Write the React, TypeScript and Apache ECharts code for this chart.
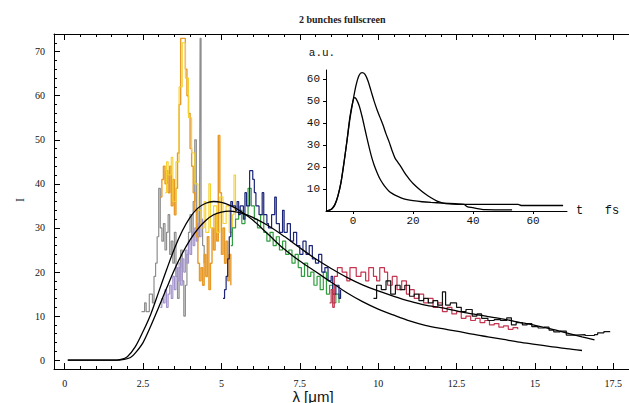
import React, { useEffect, useRef } from 'react';
import * as echarts from 'echarts';

// ---------- tick labels ----------
const xMajorTicks = [0, 2.5, 5, 7.5, 10, 12.5, 15, 17.5];
const yMajorTicks = [0, 10, 20, 30, 40, 50, 60, 70];
const insetXTicks = [0, 20, 40, 60];
const insetYTicks = [10, 20, 30, 40, 50, 60];

// ---------- main spectra (λ [μm], I) ----------
const graySpec = [[2.45,11],[2.55,13],[2.6,11],[2.7,15],[2.8,13],[2.85,19],[2.9,22],[2.95,28],[3.0,39],[3.05,30],[3.1,27],[3.15,31],[3.2,25],[3.25,29],[3.3,33],[3.35,24],[3.4,27],[3.45,22],[3.5,29],[3.55,19],[3.6,14],[3.65,21],[3.7,25],[3.75,18],[3.8,10],[3.85,17],[3.9,24],[3.95,29],[4.0,33],[4.05,28],[4.1,36],[4.15,50],[4.2,34],[4.25,28],[4.3,31],[4.32,73],[4.35,31],[4.4,26],[4.45,22]];
const purpleSpec = [[3.05,12],[3.1,14],[3.15,13],[3.2,16],[3.25,12],[3.3,15],[3.35,17],[3.4,14],[3.45,19],[3.5,16],[3.55,21],[3.6,18],[3.65,22],[3.7,17],[3.75,23],[3.8,20],[3.85,25],[3.9,22],[3.95,27],[4.0,24],[4.05,29],[4.1,26],[4.15,30],[4.2,27],[4.25,31],[4.3,28],[4.35,32],[4.4,30]];
const orangeSpec = [[3.05,37],[3.1,41],[3.15,44],[3.2,40],[3.25,43],[3.3,38],[3.35,44],[3.4,35],[3.45,41],[3.5,33],[3.55,39],[3.6,47],[3.65,58],[3.7,73],[3.8,73],[3.85,66],[3.9,60],[3.95,56],[4.0,48],[4.05,44],[4.1,38],[4.15,34],[4.2,28],[4.25,22],[4.3,18],[4.35,21],[4.4,17],[4.45,24],[4.5,19],[4.55,28],[4.6,16],[4.65,22],[4.7,30],[4.75,25],[4.8,33],[4.85,27],[4.9,51],[4.95,38],[5.0,24],[5.05,30],[5.1,22],[5.15,27],[5.2,18],[5.25,24],[5.3,17]];
const yellowSpec = [[3.2,38],[3.25,45],[3.3,42],[3.4,46],[3.45,36],[3.55,45],[3.65,62],[3.75,72],[3.85,64],[3.95,55],[4.05,47],[4.15,40],[4.25,34],[4.35,30],[4.45,36],[4.5,29],[4.6,40],[4.65,30],[4.75,35],[4.85,29],[4.95,37],[5.05,31],[5.15,35],[5.25,29],[5.35,33],[5.4,42],[5.45,30]];
const blueSpec = [[5.05,14],[5.1,16],[5.15,19],[5.2,23],[5.25,28],[5.3,36],[5.35,35],[5.45,34],[5.5,36],[5.55,33],[5.6,35],[5.7,32],[5.75,38],[5.8,35],[5.9,43],[6.0,41],[6.05,38],[6.1,35],[6.2,33],[6.3,38],[6.35,33],[6.45,31],[6.5,30],[6.6,33],[6.7,37],[6.75,31],[6.85,29],[6.95,34],[7.0,29],[7.1,31],[7.2,27],[7.3,29],[7.4,26],[7.5,24],[7.6,27],[7.7,24],[7.8,26],[7.9,23],[8.0,22],[8.1,24],[8.2,20],[8.3,21],[8.4,18],[8.5,19],[8.55,15],[8.65,17],[8.75,14],[8.8,16]];
const greenSpec = [[5.3,26],[5.35,30],[5.45,32],[5.55,34],[5.65,31],[5.75,33],[5.85,39],[5.95,35],[6.05,32],[6.15,30],[6.25,33],[6.35,29],[6.45,27],[6.55,29],[6.65,26],[6.75,28],[6.85,25],[6.95,27],[7.05,24],[7.15,25],[7.25,22],[7.35,24],[7.45,21],[7.55,19],[7.65,22],[7.75,19],[7.85,20],[7.95,17],[8.05,19],[8.15,16],[8.25,20],[8.35,15],[8.45,17],[8.55,13],[8.65,15],[8.75,13]];
const redSpec = [[8.45,13],[8.5,16],[8.55,12],[8.6,19],[8.7,21],[8.85,20],[9.0,18],[9.1,21],[9.3,19],[9.45,20],[9.6,18],[9.7,21],[9.85,19],[9.95,18],[10.05,21],[10.2,20],[10.3,17],[10.45,19],[10.6,16],[10.75,18],[10.9,15],[11.0,16],[11.15,14],[11.3,15],[11.45,13],[11.6,14],[11.75,12],[11.9,13],[12.05,11],[12.2,12],[12.35,10.5],[12.5,11],[12.65,9.5],[12.8,10],[12.95,9],[13.1,9.5],[13.25,8.5],[13.4,9],[13.55,8],[13.7,8.3],[13.85,7.5],[14.0,7.8],[14.15,7],[14.3,7.4],[14.45,7]];
const blackSpec = [[9.85,14],[9.95,17],[10.1,16],[10.25,18],[10.4,15],[10.55,17],[10.7,16],[10.85,17],[11.0,14.5],[11.15,15],[11.3,13.5],[11.45,14],[11.6,13],[11.75,13.5],[11.9,12.5],[12.05,15.5],[12.15,12.5],[12.3,13],[12.5,12],[12.65,11],[12.8,11.5],[13.0,10],[13.15,10.5],[13.3,9.5],[13.5,9],[13.7,9.2],[13.9,9],[14.1,9.6],[14.25,8],[14.4,8.5],[14.6,8],[14.75,8.3],[14.9,7.6],[15.1,7.3],[15.3,7.5],[15.45,6.8],[15.6,6.4],[15.8,6.6],[16.0,5.7],[16.3,5.8],[16.6,5.6],[16.9,5.8],[17.0,6.2],[17.2,6.5],[17.4,6.4]];

// ---------- smooth model curves ----------
const modelA = [[0.1,0],[1.5,0],[1.8,0.2],[2.0,0.8],[2.25,3],[2.5,6.5],[2.75,10.5],[3.0,15.5],[3.25,20.5],[3.5,25.3],[3.75,29.3],[4.0,32.4],[4.25,34.5],[4.5,35.6],[4.75,36],[5.0,35.8],[5.25,35.2],[5.5,34.3],[6.0,31.8],[6.5,28.5],[7.0,25.2],[7.5,22.5],[8.0,20.1],[8.5,17.7],[9.0,15.3],[9.5,13.3],[10.0,11.6],[10.5,10.2],[11.0,8.9],[11.5,7.9],[12.0,7.2],[12.5,6.6],[13.0,5.9],[13.5,5.3],[14.0,4.7],[14.5,4.1],[15.0,3.6],[15.5,3.1],[16.0,2.6],[16.5,2.2]];
const modelB = [[0.1,0],[1.6,0],[1.9,0.2],[2.1,0.6],[2.25,1.6],[2.5,4],[2.75,7.8],[3.0,12],[3.25,16.3],[3.5,20.5],[3.75,24.2],[4.0,27.3],[4.25,29.8],[4.5,31.7],[4.75,33],[5.0,33.6],[5.25,33.8],[5.5,33.6],[5.75,33.1],[6.0,32.4],[6.5,30.5],[7.0,28.1],[7.5,25.5],[8.0,23],[8.5,20.8],[9.0,18.8],[9.5,17.1],[10.0,15.7],[10.5,14.5],[11.0,13.4],[11.5,12.5],[12.0,11.9],[12.5,11.2],[13.0,10.5],[13.5,9.9],[14.0,9.3],[14.5,8.6],[15.0,7.9],[15.5,7.1],[16.0,6.2],[16.5,5.3],[16.9,4.6]];

// ---------- inset pulses (t [fs], a.u.) ----------
const pulseA = [[-9,0],[-8,0.3],[-7,1],[-6,3],[-5,7],[-4,13],[-3,22],[-2,32],[-1,42],[0,50],[1,57],[2,61.5],[3,62.8],[4,62],[5,59],[6,54.5],[7,50],[8,46],[9,42.5],[10,39],[11,35],[12,31.5],[13,27.5],[14,24],[15,22],[16,20],[17,17.8],[18,15.8],[19,14],[20,12.5],[22,10],[24,7.8],[26,6],[28,4.5],[30,3.6],[32,3.2],[35,3],[55,3],[56,2.5],[70,2.5]];
const pulseB = [[-9,0],[-8,0.3],[-7,1],[-6,3],[-5,7],[-4,13],[-3,22],[-2,32],[-1,43],[0,50],[0.5,51.5],[1,51],[2,48],[3,43],[4,37],[5,31],[6,25.5],[7,21],[8,17.5],[9,14.5],[10,12.3],[11,10.5],[12,9],[13,8],[14,7.2],[16,6],[18,5.2],[20,4.7],[23,4.2],[26,3.9],[30,3.6],[34,3.3],[37,3],[38,2],[40,1.5],[42,1],[44,0.6],[53,0.5]];

function minorTicks(from: number, to: number, step: number, majors: number[]) {
  const out: number[] = [];
  for (let v = from; v <= to + 1e-9; v += step) {
    const r = Math.round(v * 100) / 100;
    if (!majors.some((m) => Math.abs(m - r) < 1e-6)) out.push(r);
  }
  return out;
}

const serif = 'Liberation Serif';
const mono = 'Liberation Mono';

export default function App() {
  const ref = useRef<HTMLDivElement>(null);
  useEffect(() => {
    document.body.style.margin = '0';
    if (!ref.current) return;
    const chart = echarts.init(ref.current, undefined, { renderer: 'svg' });
    const xMinor = minorTicks(0, 18, 0.5, xMajorTicks);
    const yMinor = minorTicks(-2, 74, 2, yMajorTicks);
    const X = { min: -0.34, max: 18, type: 'value' as const, gridIndex: 0 };
    const Y = { min: -2, max: 74, type: 'value' as const, gridIndex: 0 };
    const lineBlack = { show: true, onZero: false, lineStyle: { color: '#000', width: 1 } };
    const noLine = { show: false, onZero: false };
    const step = (data: number[][], color: string, w = 1.2) => ({
      type: 'line', step: 'end', data, showSymbol: false, xAxisIndex: 0, yAxisIndex: 0,
      lineStyle: { color, width: w }, itemStyle: { color }, z: 2,
    });
    const smooth = (data: number[][], xi: number, yi: number) => ({
      type: 'line', data, smooth: 0.3, showSymbol: false,
      xAxisIndex: xi, yAxisIndex: yi, lineStyle: { color: '#000', width: 1.3 }, z: 5,
    });
    chart.setOption({
      animation: false,
      backgroundColor: '#fff',
      title: {
        text: '2 bunches fullscreen', left: 294, top: 9,
        textStyle: { fontFamily: serif, fontSize: 10, fontWeight: 'bold', color: '#222' },
      },
      grid: [
        { left: 54, top: 34, width: 587, height: 335 },
        { left: 326, top: 70, width: 241, height: 141 },
      ],
      xAxis: [
        { ...X, position: 'bottom', axisLine: lineBlack, splitLine: { show: false },
          axisTick: { show: true, inside: true, length: 6, customValues: xMajorTicks, lineStyle: { color: '#000' } },
          axisLabel: { show: true, customValues: xMajorTicks, margin: 9, fontFamily: serif, fontSize: 10, color: '#111' } },
        { ...X, position: 'bottom', axisLine: noLine, splitLine: { show: false },
          axisTick: { show: true, inside: true, length: 3, customValues: xMinor, lineStyle: { color: '#000' } },
          axisLabel: { show: false } },
        { ...X, position: 'top', axisLine: lineBlack, splitLine: { show: false },
          axisTick: { show: true, inside: true, length: 6, customValues: xMajorTicks, lineStyle: { color: '#000' } },
          axisLabel: { show: false } },
        { ...X, position: 'top', axisLine: noLine, splitLine: { show: false },
          axisTick: { show: true, inside: true, length: 3, customValues: xMinor, lineStyle: { color: '#000' } },
          axisLabel: { show: false } },
        { type: 'value', gridIndex: 1, min: -9, max: 71.3, position: 'bottom',
          axisLine: { show: true, onZero: false, lineStyle: { color: '#000', width: 1 } }, splitLine: { show: false },
          axisTick: { show: true, length: 3, customValues: insetXTicks, lineStyle: { color: '#000' } },
          axisLabel: { show: true, customValues: insetXTicks, margin: 4, fontFamily: mono, fontSize: 11, color: '#111' },
          name: 't   fs', nameLocation: 'end', nameGap: 9,
          nameTextStyle: { fontFamily: mono, fontSize: 12, color: '#111' } },
      ],
      yAxis: [
        { ...Y, position: 'left', axisLine: lineBlack, splitLine: { show: false },
          axisTick: { show: true, inside: true, length: 6, customValues: yMajorTicks, lineStyle: { color: '#000' } },
          axisLabel: { show: true, customValues: yMajorTicks, margin: 9, fontFamily: serif, fontSize: 10, color: '#111' } },
        { ...Y, position: 'left', axisLine: noLine, splitLine: { show: false },
          axisTick: { show: true, inside: true, length: 3, customValues: yMinor, lineStyle: { color: '#000' } },
          axisLabel: { show: false } },
        { type: 'value', gridIndex: 1, min: 0, max: 64, position: 'left',
          axisLine: { show: true, onZero: false, lineStyle: { color: '#000', width: 1 } }, splitLine: { show: false },
          axisTick: { show: true, length: 3, customValues: insetYTicks, lineStyle: { color: '#000' } },
          axisLabel: { show: true, customValues: insetYTicks, margin: 6, fontFamily: mono, fontSize: 11, color: '#111' },
          name: 'a.u.', nameLocation: 'end', nameGap: 12,
          nameTextStyle: { fontFamily: mono, fontSize: 11, color: '#111', align: 'center', padding: [0, 8, 0, 0] } },
      ],
      graphic: [
        { type: 'text', x: 20, y: 200, rotation: Math.PI / 2,
          style: { text: 'I', fontFamily: serif, fontSize: 12, fill: '#222', textAlign: 'center', textVerticalAlign: 'middle' } },
        { type: 'text', x: 313, y: 396,
          style: { text: 'λ [μm]', fontFamily: 'Liberation Sans', fontSize: 15, fill: '#111', textAlign: 'center', textVerticalAlign: 'middle' } },
      ],
      series: [
        step(graySpec, '#8e8e8e'),
        step(purpleSpec, '#a393cc'),
        step(orangeSpec, '#e89a28', 1.4),
        step(yellowSpec, '#f5d02e', 1.1),
        step(greenSpec, '#2f9e3c'),
        step(blueSpec, '#1b2478'),
        step(redSpec, '#c4344e'),
        step(blackSpec, '#111'),
        smooth(modelA, 0, 0),
        smooth(modelB, 0, 0),
        smooth(pulseA, 4, 2),
        smooth(pulseB, 4, 2),
      ],
    });
    return () => chart.dispose();
  }, []);
  return <div ref={ref} style={{ width: 629, height: 403 }} />;
}
